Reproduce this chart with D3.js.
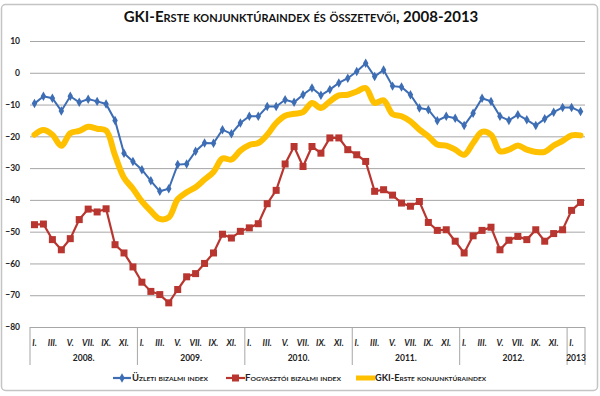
<!DOCTYPE html>
<html>
<head>
<meta charset="utf-8">
<script src="https://cdn.jsdelivr.net/npm/d3@7"></script>
<style>
  body { margin: 0; background: #fff; }
  text { font-family: Lato, "Open Sans", sans-serif; }
</style>
</head>
<body>
<div id="my_dataviz"></div>
<script>
// months 2008 I. .. 2013 II.
let years = ["2008.", "2009.", "2010.", "2011.", "2012.", "2013"]
let yearMonths = [12, 12, 12, 12, 12, 2]
let monthLabels = ["I.", "", "III.", "", "V.", "", "VII.", "", "IX.", "", "XI.", ""]
let yTicks = [10, 0, -10, -20, -30, -40, -50, -60, -70, -80]

let uzleti = [-9.7, -7.4, -8, -12, -7.4, -9.3, -8.3, -9, -9.8, -15, -25.3, -27.9,
  -30.5, -34, -37.3, -36.5, -28.9, -28.7, -24.7, -22.1, -22.2, -17.9, -19.2, -15.8,
  -13.7, -13.7, -10.6, -10.6, -8.5, -9.3, -6.9, -4.8, -7.1, -5.3, -3.2, -1.7,
  0.4, 3.0, -1.2, 0.9, -4.2, -4.5, -6.9, -11.1, -11.6, -15.1, -13.7, -14.3,
  -16.6, -12.7, -8, -9, -13.7, -15, -13.2, -14.8, -16.6, -14.5, -12.4, -10.9,
  -10.9, -12.2]
let fogyasztoi = [-47.8, -47.6, -52.5, -55.7, -52.2, -46.2, -42.9, -43.8, -42.8, -54.1, -56.7, -61.1,
  -65.9, -68.8, -69.8, -72.4, -68.2, -64.2, -63.2, -60, -56.7, -50.8, -52, -49.9,
  -48.8, -47.5, -41.2, -37, -28.7, -23.2, -29.5, -23.2, -25.3, -20.5, -20.5, -24.2,
  -25.8, -27.9, -37.3, -36.8, -38.5, -41, -42, -40.5, -47.1, -49.6, -49.4, -53,
  -56.7, -51.3, -49.6, -48.6, -55.7, -52.7, -51.5, -52.5, -49.4, -53, -50.6, -49.4,
  -43.3, -40.8]
let gkiErste = [-19.5, -18, -19.5, -23, -19, -18.3, -17, -17.6, -18.2, -26, -33, -36.5,
  -40.5, -43.5, -46, -45.5, -39.8, -37.6, -36, -33.6, -31.2, -27, -27.3, -24.5,
  -22.7, -22.1, -19.5, -15.8, -13.5, -12.9, -12.4, -9.5, -11.1, -9, -7.1, -6.9,
  -5.9, -4.8, -9.5, -8.7, -13, -13.7, -15.3, -17.9, -20, -22.6, -22.9, -24.2,
  -25.8, -22.1, -18.6, -19.5, -24.7, -24.2, -22.9, -24.2, -24.9, -24.9, -22.9, -21.4,
  -19.7, -19.7]

let seriesNames = ["Üzleti bizalmi index", "Fogyasztói bizalmi index", "GKI-Erste konjunktúraindex"]
let colors = ["#3d6db4", "#b8362f", "#ffc000"]

// build month list
let months = []
years.forEach((yr, yi) => {
  for (let m = 0; m < yearMonths[yi]; m++) months.push({ year: yi, m: m, key: yr + m })
})

let W = 600, H = 396
let plot = { left: 30, right: 585, top: 41, bottom: 327 }

let svg = d3.select("#my_dataviz").append("svg")
  .attr("width", W).attr("height", H)

// chart border
svg.append("rect")
  .attr("x", 1.5).attr("y", 4.5).attr("width", 596).attr("height", 386)
  .attr("rx", 4)
  .attr("fill", "#fff").attr("stroke", "#c4c4c4").attr("stroke-width", 1.5)

// title (small caps)
svg.append("text")
  .attr("x", 301).attr("y", 22)
  .attr("text-anchor", "middle")
  .style("font-size", "15px").style("font-weight", "bold")
  .style("font-variant", "small-caps")
  .attr("fill", "#111")
  .text("GKI-Erste konjunktúraindex és összetevői, 2008-2013")

let x = d3.scaleBand()
  .domain(months.map(d => d.key))
  .range([plot.left, plot.right])
  .padding(0)

let y = d3.scaleLinear()
  .domain([-80, 10])
  .range([plot.bottom, plot.top])

let cx = (i) => x(months[i].key) + x.bandwidth() / 2

// gridlines + y labels
let yAxis = svg.append("g")
  .attr("transform", "translate(" + plot.left + ",0)")
  .call(d3.axisLeft(y).tickValues(yTicks).tickSize(-(plot.right - plot.left)).tickPadding(10))
yAxis.select(".domain").remove()
yAxis.selectAll(".tick line").attr("stroke", "#a6a6a6").attr("stroke-width", 1)
yAxis.selectAll(".tick text")
  .attr("fill", "#222")
  .style("font-size", "8.5px").style("font-weight", "bold")
  .style("font-family", "Lato, sans-serif")

// category box: left edge + year separators
let boxBottom = 365
let yearStart = 0
let cat = svg.append("g")
cat.append("line")
  .attr("x1", plot.left).attr("x2", plot.left)
  .attr("y1", plot.bottom).attr("y2", boxBottom)
  .attr("stroke", "#a6a6a6")
years.forEach((yr, yi) => {
  let first = months[yearStart].key
  let last = months[yearStart + yearMonths[yi] - 1].key
  let x0 = x(first), x1 = x(last) + x.bandwidth()
  cat.append("line")
    .attr("x1", x1).attr("x2", x1)
    .attr("y1", plot.bottom).attr("y2", boxBottom)
    .attr("stroke", "#a6a6a6")
  cat.append("text")
    .attr("x", (x0 + x1) / 2).attr("y", 361)
    .attr("text-anchor", "middle")
    .style("font-size", "8.5px").style("font-weight", "bold")
    .attr("fill", "#222")
    .text(yr)
  yearStart += yearMonths[yi]
})
cat.selectAll(".mlab")
  .data(months.filter(d => monthLabels[d.m] != ""))
  .enter().append("text")
  .attr("x", d => x(d.key) + x.bandwidth() / 2)
  .attr("y", 346)
  .attr("text-anchor", "middle")
  .style("font-size", "8.5px").style("font-weight", "bold").style("font-style", "italic")
  .attr("fill", "#222")
  .text(d => monthLabels[d.m])

// lines
let line = d3.line().x((d, i) => cx(i)).y(d => y(d))
let smooth = d3.line().x((d, i) => cx(i)).y(d => y(d)).curve(d3.curveCatmullRom.alpha(0.5))

svg.append("path").datum(gkiErste)
  .attr("d", smooth).attr("fill", "none")
  .attr("stroke", colors[2]).attr("stroke-width", 6)
  .attr("stroke-linejoin", "round").attr("stroke-linecap", "round")

svg.append("path").datum(fogyasztoi)
  .attr("d", line).attr("fill", "none")
  .attr("stroke", colors[1]).attr("stroke-width", 2.2)
svg.selectAll(".sq").data(fogyasztoi).enter().append("rect")
  .attr("x", (d, i) => cx(i) - 3.5).attr("y", d => y(d) - 3.5)
  .attr("width", 7).attr("height", 7)
  .attr("fill", colors[1])

svg.append("path").datum(uzleti)
  .attr("d", line).attr("fill", "none")
  .attr("stroke", colors[0]).attr("stroke-width", 2)
svg.selectAll(".dm").data(uzleti).enter().append("path")
  .attr("d", d3.symbol().type(d3.symbolDiamond).size(26))
  .attr("transform", (d, i) => "translate(" + cx(i) + "," + y(d) + ")")
  .attr("fill", colors[0])

// legend
let legY = 378
let legItems = [
  { x1: 113, x2: 131, tx: 132, w: 76 },
  { x1: 226, x2: 245, tx: 245, w: 96 },
  { x1: 356, x2: 375, tx: 375, w: 111 }
]
legItems.forEach((it, i) => {
  svg.append("line")
    .attr("x1", it.x1).attr("x2", it.x2).attr("y1", legY).attr("y2", legY)
    .attr("stroke", colors[i]).attr("stroke-width", i == 2 ? 5 : 2.2)
  if (i == 0) {
    svg.append("path")
      .attr("d", d3.symbol().type(d3.symbolDiamond).size(26))
      .attr("transform", "translate(" + ((it.x1 + it.x2) / 2) + "," + legY + ")")
      .attr("fill", colors[0])
  } else if (i == 1) {
    svg.append("rect")
      .attr("x", (it.x1 + it.x2) / 2 - 3.5).attr("y", legY - 3.5)
      .attr("width", 7).attr("height", 7).attr("fill", colors[1])
  }
  svg.append("text")
    .attr("x", it.tx).attr("y", legY + 3)
    .attr("textLength", it.w).attr("lengthAdjust", "spacingAndGlyphs")
    .style("font-size", "8.5px").style("font-weight", "bold")
    .style("font-variant", "small-caps")
    .attr("fill", "#222")
    .text(seriesNames[i])
})
</script>
</body>
</html>
